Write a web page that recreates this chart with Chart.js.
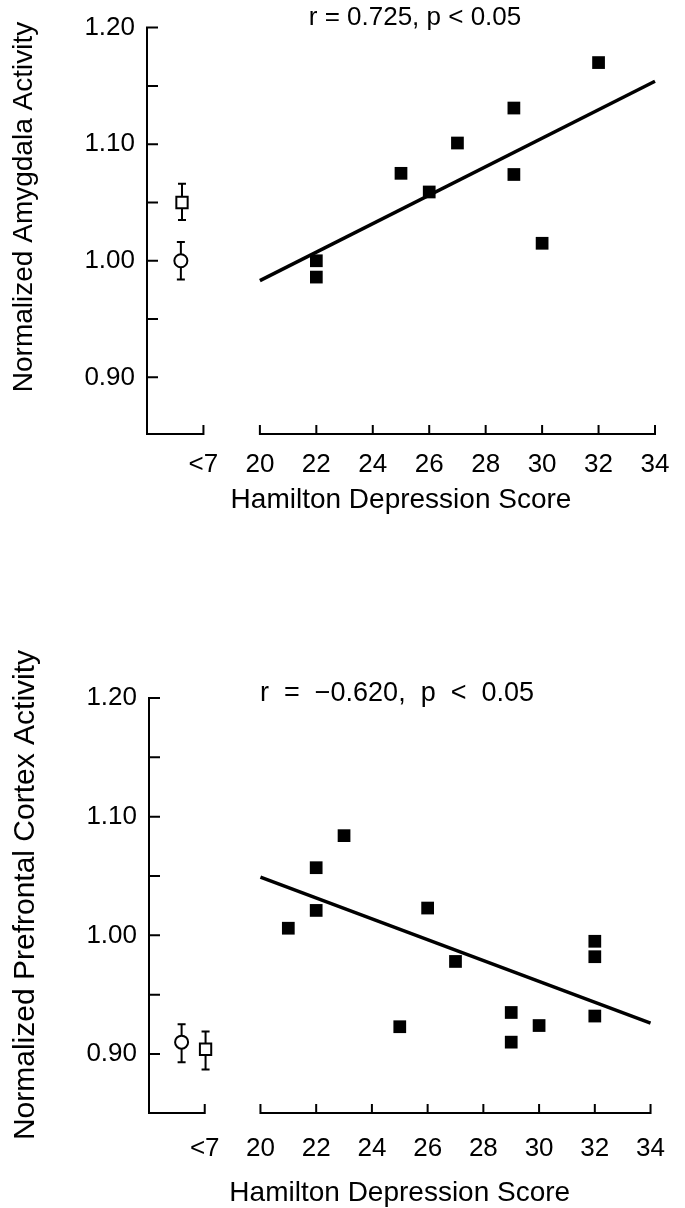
<!DOCTYPE html>
<html>
<head>
<meta charset="utf-8">
<script src="https://cdn.jsdelivr.net/npm/chart.js@4.4.1/dist/chart.umd.min.js"></script>
<style>
  html, body { margin: 0; padding: 0; background: #fff; }
  .panel { position: absolute; left: 0; width: 685px; }
  #top { top: 0; height: 560px; }
  #bottom { top: 560px; height: 648px; }
</style>
</head>
<body>
<div class="panel" id="top"><canvas id="amygdalaChart"></canvas></div>
<div class="panel" id="bottom"><canvas id="prefrontalChart"></canvas></div>
<script>
// x axis: "<7" controls sit left of the axis break, patients on 20..34
const xTickValues = [18, 20, 22, 24, 26, 28, 30, 32, 34];
const xTickLabels = ["<7", "20", "22", "24", "26", "28", "30", "32", "34"];
const yMajorTicks = [0.90, 1.00, 1.10, 1.20];
const yMinorTicks = [0.95, 1.05, 1.15];

// top panel - amygdala
const amygHamilton = [22, 22, 25, 26, 27, 29, 29, 30, 32];
const amygActivity = [1.000, 0.986, 1.075, 1.059, 1.101, 1.131, 1.074, 1.015, 1.170];
const amygFitX = [20, 34];
const amygFitY = [0.983, 1.154];
// controls: circle, square
const amygControlX = [17.2, 17.24];
const amygControlY = [1.000, 1.050];
const amygControlLo = [0.984, 1.035];
const amygControlHi = [1.016, 1.066];

// bottom panel - prefrontal cortex
const pfcHamilton = [21, 22, 22, 23, 25, 26, 27, 29, 29, 30, 32, 32, 32];
const pfcActivity = [1.006, 1.057, 1.021, 1.084, 0.923, 1.023, 0.978, 0.935, 0.910, 0.924, 0.995, 0.982, 0.932];
const pfcFitX = [20, 34];
const pfcFitY = [1.049, 0.926];
const pfcControlX = [17.17, 18.03];
const pfcControlY = [0.910, 0.904];
const pfcControlLo = [0.893, 0.887];
const pfcControlHi = [0.925, 0.919];

const FAMILY = "'Liberation Sans', Arial, sans-serif";
Chart.defaults.font.family = FAMILY;
Chart.defaults.font.size = 26;
Chart.defaults.color = "#000";

function points(xs, ys) {
  return xs.map((x, i) => ({ x: x, y: ys[i] }));
}

// axis lines with inward ticks and the break between <7 and 20
const axesPlugin = {
  id: "axesPlugin",
  afterDraw(chart) {
    const ctx = chart.ctx;
    const xs = chart.scales.x;
    const ys = chart.scales.y;
    const bottom = ys.bottom;
    const left = xs.left;

    ctx.save();
    ctx.strokeStyle = "#000";
    ctx.lineWidth = 2;
    ctx.lineCap = "square";

    ctx.beginPath();
    ctx.moveTo(left, bottom);
    ctx.lineTo(left, ys.getPixelForValue(1.20));
    yMajorTicks.concat(yMinorTicks).forEach(v => {
      const py = ys.getPixelForValue(v);
      ctx.moveTo(left, py);
      ctx.lineTo(left + 10, py);
    });

    // short control segment
    ctx.moveTo(left, bottom);
    ctx.lineTo(xs.getPixelForValue(18), bottom);
    // patient segment
    ctx.moveTo(xs.getPixelForValue(20), bottom);
    ctx.lineTo(xs.getPixelForValue(34), bottom);
    xTickValues.forEach(v => {
      const px = xs.getPixelForValue(v);
      ctx.moveTo(px, bottom);
      ctx.lineTo(px, bottom - 8);
    });
    ctx.stroke();
    ctx.restore();
  }
};

const errorBarPlugin = {
  id: "errorBars",
  beforeDatasetsDraw(chart, args, opts) {
    const ctx = chart.ctx;
    const xs = chart.scales.x;
    const ys = chart.scales.y;
    ctx.save();
    ctx.strokeStyle = "#000";
    ctx.lineWidth = 2;
    opts.x.forEach((x, i) => {
      const px = xs.getPixelForValue(x);
      const hi = ys.getPixelForValue(opts.hi[i]);
      const lo = ys.getPixelForValue(opts.lo[i]);
      ctx.beginPath();
      ctx.moveTo(px, hi);
      ctx.lineTo(px, lo);
      ctx.moveTo(px - 4, hi);
      ctx.lineTo(px + 4, hi);
      ctx.moveTo(px - 4, lo);
      ctx.lineTo(px + 4, lo);
      ctx.stroke();
    });
    ctx.restore();
  }
};

const labelPlugin = {
  id: "panelLabels",
  afterDraw(chart, args, opts) {
    const ctx = chart.ctx;
    ctx.save();
    ctx.fillStyle = "#000";
    ctx.textAlign = "center";
    ctx.textBaseline = "middle";
    ctx.font = opts.statSize + "px " + FAMILY;
    ctx.fillText(opts.stat, opts.statX, opts.statY);

    ctx.font = opts.yTitleSize + "px " + FAMILY;
    ctx.translate(opts.yTitleX, opts.yTitleY);
    ctx.rotate(-Math.PI / 2);
    ctx.fillText(opts.yTitle, 0, 0);
    ctx.restore();
  }
};

function createPanel(canvasId, cfg) {
  return new Chart(document.getElementById(canvasId), {
    type: "scatter",
    data: {
      datasets: [
        {
          label: "fit",
          data: points(cfg.fitX, cfg.fitY),
          showLine: true,
          borderColor: "#000",
          borderWidth: 3.5,
          pointRadius: 0,
          clip: false
        },
        {
          label: "patients",
          data: points(cfg.hamilton, cfg.activity),
          pointStyle: "rect",
          pointRadius: 9,
          backgroundColor: "#000",
          borderColor: "#000",
          borderWidth: 0,
          clip: false
        },
        {
          label: "controls",
          data: points(cfg.ctrlX, cfg.ctrlY),
          pointStyle: ["circle", "rect"],
          pointRadius: [6.5, 8],
          backgroundColor: "#fff",
          borderColor: "#000",
          borderWidth: 2,
          clip: false
        }
      ]
    },
    options: {
      responsive: true,
      maintainAspectRatio: false,
      animation: false,
      events: [],
      layout: {
        autoPadding: false,
        padding: { top: cfg.padTop, right: cfg.padRight, left: 0, bottom: 0 }
      },
      plugins: {
        legend: { display: false },
        tooltip: { enabled: false },
        errorBars: { x: cfg.ctrlX, lo: cfg.ctrlLo, hi: cfg.ctrlHi },
        panelLabels: {
          stat: cfg.stat, statX: cfg.statX, statY: cfg.statY, statSize: cfg.statSize,
          yTitle: cfg.yTitle, yTitleX: cfg.yTitleX, yTitleY: cfg.yTitleY,
          yTitleSize: cfg.yTitleSize
        }
      },
      scales: {
        x: {
          type: "linear",
          min: 16,
          max: 34,
          grid: { display: false, drawTicks: false },
          border: { display: false },
          afterBuildTicks: s => { s.ticks = xTickValues.map(v => ({ value: v })); },
          afterFit: s => { s.height = cfg.xHeight; },
          ticks: {
            autoSkip: false,
            maxRotation: 0,
            padding: cfg.xTickPad,
            callback: v => xTickLabels[xTickValues.indexOf(v)]
          },
          title: {
            display: true,
            text: "Hamilton Depression Score",
            font: { size: 28, lineHeight: 1 },
            padding: { top: 0, bottom: cfg.xTitlePad }
          }
        },
        y: {
          type: "linear",
          min: cfg.yMin,
          max: 1.20,
          grid: { display: false, drawTicks: false },
          border: { display: false },
          afterBuildTicks: s => { s.ticks = yMajorTicks.map(v => ({ value: v })); },
          afterFit: s => { s.width = cfg.yWidth; },
          ticks: {
            autoSkip: false,
            padding: 12,
            callback: v => v.toFixed(2)
          }
        }
      }
    },
    plugins: [axesPlugin, errorBarPlugin, labelPlugin]
  });
}

createPanel("amygdalaChart", {
  hamilton: amygHamilton, activity: amygActivity,
  fitX: amygFitX, fitY: amygFitY,
  ctrlX: amygControlX, ctrlY: amygControlY, ctrlLo: amygControlLo, ctrlHi: amygControlHi,
  yMin: 0.8514,
  padTop: 18, padRight: 30, yWidth: 147, xHeight: 126,
  xTickPad: 15, xTitlePad: 46,
  stat: "r = 0.725, p < 0.05", statX: 415, statY: 18, statSize: 26,
  yTitle: "Normalized Amygdala Activity", yTitleX: 24, yTitleY: 207, yTitleSize: 28
});

createPanel("prefrontalChart", {
  hamilton: pfcHamilton, activity: pfcActivity,
  fitX: pfcFitX, fitY: pfcFitY,
  ctrlX: pfcControlX, ctrlY: pfcControlY, ctrlLo: pfcControlLo, ctrlHi: pfcControlHi,
  yMin: 0.8503,
  padTop: 138, padRight: 29, yWidth: 149, xHeight: 95,
  xTickPad: 20, xTitlePad: 1,
  stat: "r  =  \u22120.620,  p  <  0.05", statX: 397, statY: 134, statSize: 27,
  yTitle: "Normalized Prefrontal Cortex Activity", yTitleX: 26, yTitleY: 335, yTitleSize: 30
});
</script>
</body>
</html>
